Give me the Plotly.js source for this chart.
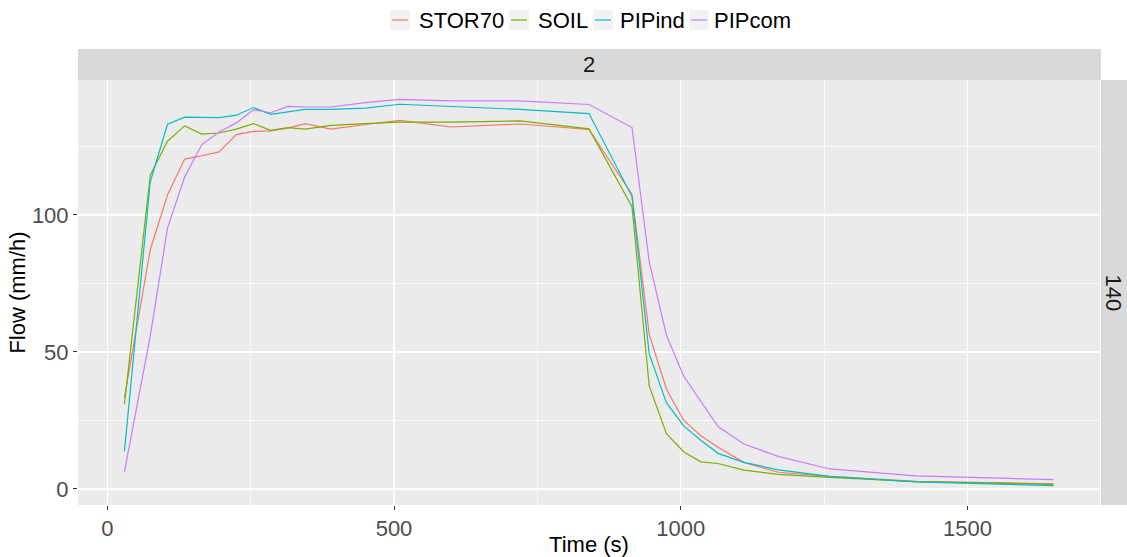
<!DOCTYPE html>
<html>
<head>
<meta charset="utf-8">
<script src="https://cdn.plot.ly/plotly-3.0.1.min.js"></script>
<style>html,body{margin:0;padding:0;background:#fff;}#chart{width:1127px;height:557px;}</style>
</head>
<body>
<div id="chart"></div>
<script>
// ---- data ----
const time = [30, 75, 105, 135, 165, 195, 225, 255, 285, 315, 345, 390, 450, 510, 600, 720, 840, 915, 945, 975, 1005, 1035, 1065, 1110, 1170, 1260, 1410, 1650];
const STOR70 = [33.3, 87.3, 107.3, 120.4, 121.6, 123.0, 129.3, 130.5, 130.7, 131.7, 133.3, 131.3, 133.0, 134.5, 132.1, 133.2, 131.2, 107.5, 56.4, 36.4, 25.1, 19.4, 15.2, 9.7, 6.1, 4.6, 2.8, 1.9];
const SOIL = [30.9, 114.5, 126.9, 132.5, 129.5, 129.9, 131.3, 133.3, 130.9, 131.9, 131.3, 132.7, 133.3, 133.9, 133.9, 134.3, 131.4, 103.0, 37.6, 20.2, 13.6, 9.9, 9.3, 6.9, 5.3, 4.2, 2.7, 1.7];
const PIPind = [13.7, 112.1, 133.1, 135.7, 135.6, 135.5, 136.4, 139.2, 136.7, 137.6, 138.5, 138.5, 139.0, 140.4, 139.6, 138.5, 137.0, 106.7, 49.3, 31.5, 23.0, 17.8, 13.0, 9.7, 7.0, 4.6, 2.6, 1.2];
const PIPcom = [6.3, 55.8, 95.2, 113.9, 125.7, 130.3, 133.6, 138.4, 137.3, 139.6, 139.4, 139.4, 141.0, 142.2, 141.6, 141.6, 140.3, 131.9, 83.0, 56.1, 41.2, 32.1, 22.8, 16.4, 11.9, 7.3, 4.8, 3.4];
const seriesNames = ["STOR70", "SOIL", "PIPind", "PIPcom"];
const seriesValues = [STOR70, SOIL, PIPind, PIPcom];
const colTopStrip = "2";
const rowStrip = "140";
const xTicks = [0, 500, 1000, 1500];
const yTicks = [0, 50, 100];

// ---- styles ----
const colors = ["#F8766D", "#7CAE00", "#00BFC4", "#C77CFF"];
const FONT = "Liberation Sans, Arial, sans-serif";
const W = 1127, H = 557;
const M = {l: 78, r: 27, t: 80, b: 52};
const PW = W - M.l - M.r, PH = H - M.t - M.b;
const px = x => (x - M.l) / PW;
const py = y => (M.t + PH - y) / PH;

// ggplot-style 5% expansion
function expand(arrs) {
  const all = [].concat(...arrs);
  const lo = Math.min(...all), hi = Math.max(...all);
  const d = (hi - lo) * 0.05;
  return [lo - d, hi + d];
}
const xr = expand([time]);
const yr = expand(seriesValues);

const traces = seriesNames.map((n, i) => ({
  type: "scatter", mode: "lines", name: n,
  x: time, y: seriesValues[i],
  line: {color: colors[i], width: 1.2},
  showlegend: false, hoverinfo: "skip"
}));

const shapes = [
  // top strip
  {type: "rect", xref: "paper", yref: "paper", x0: 0, x1: px(1101), y0: 1, y1: py(49),
   fillcolor: "#D9D9D9", line: {width: 0}, layer: "below"},
  // right strip
  {type: "rect", xref: "paper", yref: "paper", x0: px(1101), x1: px(1130), y0: 0, y1: 1,
   fillcolor: "#D9D9D9", line: {width: 0}, layer: "below"}
];
const annotations = [
  {xref: "paper", yref: "paper", x: 0.5, y: py(64.5), text: colTopStrip, showarrow: false,
   xanchor: "center", yanchor: "middle", font: {family: FONT, size: 22, color: "#1A1A1A"}},
  {xref: "paper", yref: "paper", x: px(1113), y: 0.5, text: rowStrip, showarrow: false, textangle: 90,
   xanchor: "center", yanchor: "middle", font: {family: FONT, size: 22, color: "#1A1A1A"}}
];

// custom ggplot-like legend
const keyX = [390, 509, 593, 689];
const textX = [417, 536, 618, 712];
const legY = 20;
seriesNames.forEach((n, i) => {
  shapes.push({type: "rect", xref: "paper", yref: "paper",
    x0: px(keyX[i]), x1: px(keyX[i] + 20), y0: py(legY + 10), y1: py(legY - 10),
    fillcolor: "#F2F2F2", line: {width: 0}});
  shapes.push({type: "line", xref: "paper", yref: "paper",
    x0: px(keyX[i] + 2), x1: px(keyX[i] + 18), y0: py(legY), y1: py(legY),
    line: {color: colors[i], width: 1.2}});
  annotations.push({xref: "paper", yref: "paper", x: px(textX[i]), y: py(legY), text: n,
    showarrow: false, xanchor: "left", yanchor: "middle",
    font: {family: FONT, size: 22, color: "#000000"}});
});

const layout = {
  width: W, height: H,
  margin: M,
  paper_bgcolor: "#FFFFFF",
  plot_bgcolor: "#EBEBEB",
  showlegend: false,
  font: {family: FONT},
  xaxis: {
    range: xr, tickvals: xTicks, ticktext: xTicks.map(String),
    showgrid: true, gridcolor: "#FFFFFF", gridwidth: 1.4, zeroline: false,
    ticks: "outside", ticklen: 4, tickwidth: 1, tickcolor: "#333333",
    tickfont: {family: FONT, size: 22, color: "#4D4D4D"},
    minor: {dtick: 250, tick0: 0, showgrid: true, gridcolor: "#FFFFFF", gridwidth: 0.7, ticks: ""},
    title: {text: "Time (s)", font: {family: FONT, size: 22, color: "#000000"}, standoff: 4},
    showline: false
  },
  yaxis: {
    range: yr, tickvals: yTicks, ticktext: yTicks.map(String),
    showgrid: true, gridcolor: "#FFFFFF", gridwidth: 1.4, zeroline: false,
    ticks: "outside", ticklen: 4, tickwidth: 1, tickcolor: "#333333",
    tickfont: {family: FONT, size: 22, color: "#4D4D4D"},
    minor: {dtick: 25, tick0: 0, showgrid: true, gridcolor: "#FFFFFF", gridwidth: 0.7, ticks: ""},
    title: {text: "Flow (mm/h)", font: {family: FONT, size: 22, color: "#000000"}, standoff: 0},
    showline: false
  },
  shapes: shapes,
  annotations: annotations
};

Plotly.newPlot("chart", traces, layout, {displayModeBar: false, staticPlot: true});
</script>
</body>
</html>
